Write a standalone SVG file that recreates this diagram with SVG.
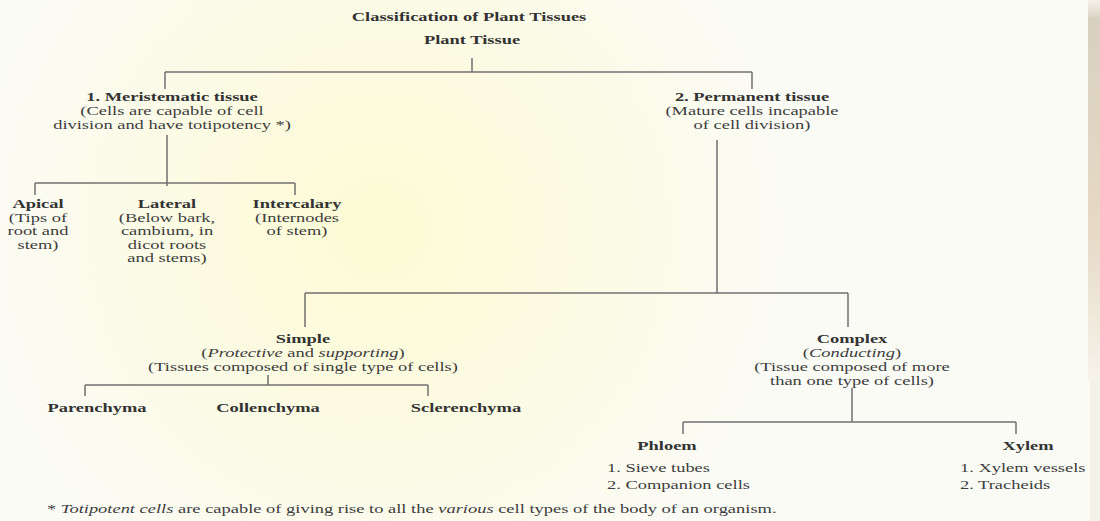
<svg xmlns="http://www.w3.org/2000/svg" width="1100" height="521" viewBox="0 0 1100 521">
<defs>
<radialGradient id="glow" cx="380" cy="230" r="420" gradientUnits="userSpaceOnUse">
<stop offset="0" stop-color="#fdfbd3"/>
<stop offset="0.6" stop-color="#fcfbe8"/>
<stop offset="1" stop-color="#fbfbf6"/>
</radialGradient>
<linearGradient id="edge" x1="0" y1="0" x2="0" y2="1">
<stop offset="0" stop-color="#e2dacb" stop-opacity="0.3"/>
<stop offset="0.05" stop-color="#d9d0bf"/>
<stop offset="0.6" stop-color="#e6d9c6"/>
<stop offset="1" stop-color="#f6f3ea"/>
</linearGradient>
<clipPath id="clipR"><rect x="0" y="0" width="1090" height="521"/></clipPath>
<style>
text{font-family:"Liberation Serif","Times New Roman",serif;font-size:13px;fill:#3d3d3d;text-anchor:middle}
.b{font-weight:bold;fill:#333}
.i{font-style:italic}
.l{text-anchor:start}
.ln{stroke:#707070;stroke-width:1.5;fill:none}
</style>
</defs>
<rect width="1100" height="521" fill="url(#glow)"/>
<rect x="1088" y="0" width="12" height="380" fill="url(#edge)"/>
<rect x="1090" y="380" width="10" height="141" fill="#f4f1e8"/>

<g id="connectors" class="ln">
<path d="M472 58V72M165 72H752M165 72V89M752 72V89"/>
<path d="M167 135V186M35 183H295M35 183V195M295 183V195"/>
<path d="M717 140V293M305 293H848M305 293V327M848 293V327"/>
<path d="M268 375V385M85 385H428M85 385V396M428 385V396"/>
<path d="M852 388V422M683 422H1016M683 422V434M1016 422V434"/>
</g>

<g id="title" transform="translate(469,0) scale(1.42,1)"><text class="b" x="0" y="21">Classification of Plant Tissues</text></g>
<g id="plant-tissue" transform="translate(472,0) scale(1.42,1)"><text class="b" x="0" y="44">Plant Tissue</text></g>

<g id="meristematic" transform="translate(172,0) scale(1.42,1)">
<text class="b" x="0" y="101">1. Meristematic tissue</text>
<text x="0" y="115">(Cells are capable of cell</text>
<text x="0" y="129">division and have totipotency *)</text>
</g>

<g id="apical" transform="translate(38,0) scale(1.42,1)">
<text class="b" x="0" y="208">Apical</text>
<text x="0" y="222">(Tips of</text>
<text x="0" y="235">root and</text>
<text x="0" y="249">stem)</text>
</g>

<g id="lateral" transform="translate(167,0) scale(1.42,1)">
<text class="b" x="0" y="208">Lateral</text>
<text x="0" y="222">(Below bark,</text>
<text x="0" y="235">cambium, in</text>
<text x="0" y="249">dicot roots</text>
<text x="0" y="262">and stems)</text>
</g>

<g id="intercalary" transform="translate(297,0) scale(1.42,1)">
<text class="b" x="0" y="208">Intercalary</text>
<text x="0" y="222">(Internodes</text>
<text x="0" y="235">of stem)</text>
</g>

<g id="permanent" transform="translate(752,0) scale(1.42,1)">
<text class="b" x="0" y="101">2. Permanent tissue</text>
<text x="0" y="115">(Mature cells incapable</text>
<text x="0" y="129">of cell division)</text>
</g>

<g id="simple" transform="translate(303,0) scale(1.42,1)">
<text class="b" x="0" y="343">Simple</text>
<text x="0" y="357">(<tspan class="i">Protective</tspan> and <tspan class="i">supporting</tspan>)</text>
<text x="0" y="371">(Tissues composed of single type of cells)</text>
</g>

<g id="parenchyma" transform="translate(97,0) scale(1.42,1)"><text class="b" x="0" y="412">Parenchyma</text></g>
<g id="collenchyma" transform="translate(268,0) scale(1.42,1)"><text class="b" x="0" y="412">Collenchyma</text></g>
<g id="sclerenchyma" transform="translate(466,0) scale(1.42,1)"><text class="b" x="0" y="412">Sclerenchyma</text></g>

<g id="complex" transform="translate(852,0) scale(1.42,1)">
<text class="b" x="0" y="343">Complex</text>
<text x="0" y="357">(<tspan class="i">Conducting</tspan>)</text>
<text x="0" y="371">(Tissue composed of more</text>
<text x="0" y="385">than one type of cells)</text>
</g>

<g id="phloem">
<g transform="translate(667,0) scale(1.42,1)"><text class="b" x="0" y="450">Phloem</text></g>
<g transform="translate(607,0) scale(1.42,1)">
<text class="l" x="0" y="472">1. Sieve tubes</text>
<text class="l" x="0" y="489">2. Companion cells</text>
</g>
</g>

<g id="xylem" clip-path="url(#clipR)">
<g transform="translate(1028,0) scale(1.42,1)"><text class="b" x="0" y="450">Xylem</text></g>
<g transform="translate(960,0) scale(1.42,1)">
<text class="l" x="0" y="472">1. Xylem vessels</text>
<text class="l" x="0" y="489">2. Tracheids</text>
</g>
</g>

<g id="footnote" transform="translate(47,0) scale(1.42,1)">
<text class="l" x="0" y="513">* <tspan class="i">Totipotent cells</tspan> are capable of giving rise to all the <tspan class="i">various</tspan> cell types of the body of an organism.</text>
</g>
</svg>
